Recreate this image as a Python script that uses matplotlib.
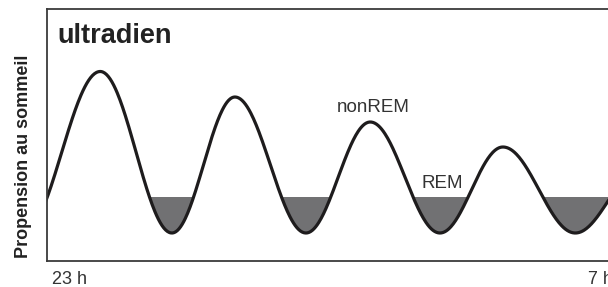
import numpy as np
import matplotlib.pyplot as plt

# extrema of the sleep-propensity wave (hours after 23 h, relative level)
ext_hours = [-0.43, 0.72, 1.79, 2.73, 3.79, 4.75, 5.79, 6.73, 7.81, 8.78]
ext_level = [-3.6, 12.55, -3.6, 10.0, -3.6, 7.5, -3.6, 5.0, -3.6, 2.7]
tick_hours = [0, 8]
tick_labels = ["23 h", "7 h"]


def smooth_wave(hours, levels, n=80):
    # half-cosine easing between successive extrema
    xs, ys = [], []
    for i in range(len(hours) - 1):
        f = np.linspace(0, 1, n, endpoint=False)
        e = (1 - np.cos(np.pi * f)) / 2
        xs.append(hours[i] + (hours[i + 1] - hours[i]) * f)
        ys.append(levels[i] + (levels[i + 1] - levels[i]) * e)
    xs.append([hours[-1]])
    ys.append([levels[-1]])
    return np.concatenate(xs), np.concatenate(ys)


def main():
    fig = plt.figure(figsize=(6.08, 2.87), dpi=100)
    ax = fig.add_axes([46.5 / 608, 1 - 261 / 287, (625 - 46.5) / 608, 252 / 287])

    x, y = smooth_wave(ext_hours, ext_level)
    ax.fill_between(x, y, 0, where=y < 0, color="#717173", lw=0, interpolate=True)
    ax.plot(x, y, color="#1e1c1d", lw=2.3, solid_capstyle="round")

    ax.set_xlim(-0.082, (625 - 52) / 67)
    ax.set_ylim(-6.4, 18.8)

    for s in ax.spines.values():
        s.set_color("#3a3a3a")
        s.set_linewidth(1.3)

    ax.set_xticks(tick_hours)
    ax.set_xticklabels(tick_labels, ha="left", fontsize=13, color="#333333",
                       family="Liberation Sans")
    ax.tick_params(axis="x", length=0, pad=7)
    ax.set_yticks([])

    ax.text(57 / 608, 1 - 43 / 287, "ultradien", transform=fig.transFigure,
            ha="left", va="baseline", fontsize=19.5, fontweight="bold",
            family="Liberation Sans", color="#222222")
    ax.text(4.25, 8.5, "nonREM", ha="left", va="baseline", fontsize=13.5,
            color="#333333", family="Liberation Sans")
    ax.text(5.52, 0.9, "REM", ha="left", va="baseline", fontsize=13.5,
            color="#333333", family="Liberation Sans")

    fig.text(24 / 608, 1 - 156 / 287, "Propension au sommeil", rotation=90,
             ha="center", va="center", fontsize=13, fontweight="bold",
             family="Liberation Sans", color="#222222")

    fig.savefig("out.png", dpi=100)


if __name__ == "__main__":
    main()
